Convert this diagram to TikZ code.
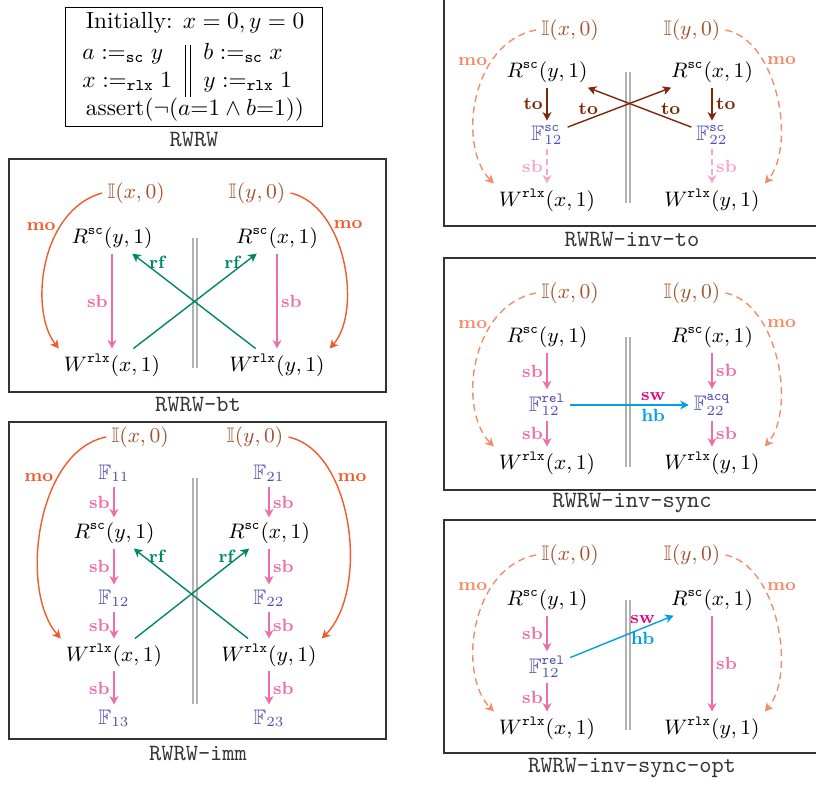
\documentclass[tikz,border=0pt]{standalone}
\usepackage{amsmath,amssymb}
\usetikzlibrary{arrows.meta}
\definecolor{inic}{RGB}{160,82,45}
\definecolor{fenc}{RGB}{80,80,180}
\definecolor{moc}{RGB}{240,90,45}
\definecolor{modc}{RGB}{245,140,105}
\definecolor{sbc}{RGB}{238,110,170}
\definecolor{sbdc}{RGB}{245,170,205}
\definecolor{rfc}{RGB}{0,135,105}
\definecolor{toc}{RGB}{125,40,10}
\definecolor{swc}{RGB}{230,0,126}
\definecolor{hbc}{RGB}{0,160,225}
\tikzset{
  ev/.style={inner sep=2pt, font=\small},
  ini/.style={ev, text=inic},
  fen/.style={ev, text=fenc},
  prog/.style={inner sep=0pt, font=\normalsize},
  lb/.style={font=\fontsize{7.6}{8}\selectfont\bfseries, inner sep=1.5pt},
  arr/.style={-{Stealth[length=3.6pt,width=3.8pt,inset=1pt]}, line width=0.6pt},
  sbA/.style={arr, color=sbc},
  sbD/.style={arr, color=sbdc, dash pattern=on 2.5pt off 1.8pt},
  rfA/.style={arr, color=rfc},
  moA/.style={arr, color=moc},
  moD/.style={arr, color=modc, dash pattern=on 3pt off 2pt},
  toA/.style={arr, color=toc},
  hbA/.style={arr, color=hbc},
  bar/.style={draw=gray!60, line width=0.5pt},
  panel/.style={draw=black!80, line width=0.5pt},
  captxt/.style={font=\ttfamily, text=black!80, inner sep=1pt}
}
\begin{document}
\begin{tikzpicture}[x=0.4292pt,y=-0.4292pt]
\useasboundingbox (0,0) rectangle (816,787);

% ---------- RWRW program ----------
\draw (65,7) rectangle (322,126);
\node[prog, anchor=base] (l1) at (195,28) {Initially: $x = 0, y = 0$};
\node[prog, anchor=base west] (l2a) at (82,59) {$a \mathrel{:=_{\mathtt{sc}}} y$};
\node[prog, anchor=base west] (l2b) at (203,59) {$b \mathrel{:=_{\mathtt{sc}}} x$};
\node[prog, anchor=base west] (l3a) at (82,87) {$x \mathrel{:=_{\mathtt{rlx}}} 1$};
\node[prog, anchor=base west] (l3b) at (203,87) {$y \mathrel{:=_{\mathtt{rlx}}} 1$};
\node[prog, anchor=base] (l4) at (195,115) {assert($\neg(a{=}1 \land b{=}1)$)};
\draw (185,45) -- (185,97) (190,45) -- (190,97);
\node[captxt] (c0) at (194,140) {RWRW};

% ---------- RWRW-bt ----------
\draw[panel] (9,159) rectangle (386,392);
\node[captxt] (c1) at (198,405) {RWRW-bt};
\node[ini] (Ix1) at (136,193) {$\mathbb{I}(x,0)$};
\node[ini] (Iy1) at (257,193) {$\mathbb{I}(y,0)$};
\node[ev] (Ry1) at (112,238) {$R^{\mathtt{sc}}(y,1)$};
\node[ev] (Rx1) at (277,238) {$R^{\mathtt{sc}}(x,1)$};
\node[ev] (Wx1) at (112,365) {$W^{\mathtt{rlx}}(x,1)$};
\node[ev] (Wy1) at (277,365) {$W^{\mathtt{rlx}}(y,1)$};
\draw[bar] (193,238) -- (193,368) (197,238) -- (197,368);
\draw[sbA] (Ry1) -- (Wx1) node[lb,midway,left]{sb};
\draw[sbA] (Rx1) -- (Wy1) node[lb,midway,right]{sb};
\draw[rfA] (Wy1) -- (Ry1) node[lb,pos=.8,above]{rf};
\draw[rfA] (Wx1) -- (Rx1) node[lb,pos=.8,above]{rf};
\draw[moA] (Ix1.west) .. controls +(-62,17) and +(-30,-38) .. (Wx1.north west) node[lb,pos=.3,left]{mo};
\draw[moA] (Iy1.east) .. controls +(55,12) and +(33,-38) .. (Wy1.north east) node[lb,pos=.3,right]{mo};

% ---------- RWRW-imm ----------
\draw[panel] (9,422) rectangle (386,739);
\node[captxt] (c2) at (198,754) {RWRW-imm};
\node[ini] (Ix2) at (140,437) {$\mathbb{I}(x,0)$};
\node[ini] (Iy2) at (255,437) {$\mathbb{I}(y,0)$};
\node[fen] (F11) at (114,473) {$\mathbb{F}_{11}$};
\node[fen] (F21) at (269,473) {$\mathbb{F}_{21}$};
\node[ev] (Ry2) at (114,533) {$R^{\mathtt{sc}}(y,1)$};
\node[ev] (Rx2) at (269,533) {$R^{\mathtt{sc}}(x,1)$};
\node[fen] (F12) at (114,598) {$\mathbb{F}_{12}$};
\node[fen] (F22) at (269,598) {$\mathbb{F}_{22}$};
\node[ev] (Wx2) at (114,655) {$W^{\mathtt{rlx}}(x,1)$};
\node[ev] (Wy2) at (269,655) {$W^{\mathtt{rlx}}(y,1)$};
\node[fen] (F13) at (114,718) {$\mathbb{F}_{13}$};
\node[fen] (F23) at (269,718) {$\mathbb{F}_{23}$};
\draw[bar] (193,478) -- (193,704) (197,478) -- (197,704);
\draw[sbA] (F11) -- (Ry2) node[lb,midway,left]{sb};
\draw[sbA] (Ry2) -- (F12) node[lb,midway,left]{sb};
\draw[sbA] (F12) -- (Wx2) node[lb,midway,left]{sb};
\draw[sbA] (Wx2) -- (F13) node[lb,midway,left]{sb};
\draw[sbA] (F21) -- (Rx2) node[lb,midway,right]{sb};
\draw[sbA] (Rx2) -- (F22) node[lb,midway,right]{sb};
\draw[sbA] (F22) -- (Wy2) node[lb,midway,right]{sb};
\draw[sbA] (Wy2) -- (F23) node[lb,midway,right]{sb};
\draw[rfA] (Wy2) -- (Ry2) node[lb,pos=.8,above]{rf};
\draw[rfA] (Wx2) -- (Rx2) node[lb,pos=.8,above]{rf};
\draw[moA] (Ix2.west) .. controls +(-70,14) and +(-42,-48) .. (Wx2.north west) node[lb,pos=.3,left]{mo};
\draw[moA] (Iy2.east) .. controls +(65,14) and +(48,-48) .. (Wy2.north east) node[lb,pos=.3,right]{mo};

% ---------- RWRW-inv-to ----------
\draw[panel] (444,-5) rectangle (830,226);
\node[captxt] (c3) at (632,240) {RWRW-inv-to};
\node[ini] (Ix3) at (570,30) {$\mathbb{I}(x,0)$};
\node[ini] (Iy3) at (692,30) {$\mathbb{I}(y,0)$};
\node[ev] (Ry3) at (547,72) {$R^{\mathtt{sc}}(y,1)$};
\node[ev] (Rx3) at (712,72) {$R^{\mathtt{sc}}(x,1)$};
\node[fen] (G12) at (547,135) {$\mathbb{F}^{\mathtt{sc}}_{12}$};
\node[fen] (G22) at (712,135) {$\mathbb{F}^{\mathtt{sc}}_{22}$};
\node[ev] (Wx3) at (547,200) {$W^{\mathtt{rlx}}(x,1)$};
\node[ev] (Wy3) at (712,200) {$W^{\mathtt{rlx}}(y,1)$};
\draw[bar] (626,72) -- (626,203) (630,72) -- (630,203);
\draw[toA] (Ry3) -- (G12) node[lb,midway,left]{to};
\draw[toA] (Rx3) -- (G22) node[lb,midway,right]{to};
\draw[toA] (G12) -- (Rx3) node[lb,pos=.2,above]{to};
\draw[toA] (G22) -- (Ry3) node[lb,pos=.2,above]{to};
\draw[sbD] (G12) -- (Wx3) node[lb,midway,left]{sb};
\draw[sbD] (G22) -- (Wy3) node[lb,midway,right]{sb};
\draw[moD] (Ix3.west) .. controls +(-65,12) and +(-37,-38) .. (Wx3.north west) node[lb,pos=.3,left]{mo};
\draw[moD] (Iy3.east) .. controls +(52,10) and +(32,-38) .. (Wy3.north east) node[lb,pos=.3,right]{mo};

% ---------- RWRW-inv-sync ----------
\draw[panel] (444,258) rectangle (830,490);
\node[captxt] (c4) at (632,503) {RWRW-inv-sync};
\node[ini] (Ix4) at (570,293) {$\mathbb{I}(x,0)$};
\node[ini] (Iy4) at (692,293) {$\mathbb{I}(y,0)$};
\node[ev] (Ry4) at (547,337) {$R^{\mathtt{sc}}(y,1)$};
\node[ev] (Rx4) at (712,337) {$R^{\mathtt{sc}}(x,1)$};
\node[fen] (H12) at (547,405) {$\mathbb{F}^{\mathtt{rel}}_{12}$};
\node[fen] (H22) at (712,405) {$\mathbb{F}^{\mathtt{acq}}_{22}$};
\node[ev] (Wx4) at (547,463) {$W^{\mathtt{rlx}}(x,1)$};
\node[ev] (Wy4) at (712,463) {$W^{\mathtt{rlx}}(y,1)$};
\draw[bar] (626,337) -- (626,467) (630,337) -- (630,467);
\draw[sbA] (Ry4) -- (H12) node[lb,midway,left]{sb};
\draw[sbA] (H12) -- (Wx4) node[lb,midway,left]{sb};
\draw[sbA] (Rx4) -- (H22) node[lb,midway,right]{sb};
\draw[sbA] (H22) -- (Wy4) node[lb,midway,right]{sb};
\draw[hbA] (H12) -- (H22) node[lb,pos=.7,above,text=swc]{sw} node[lb,pos=.7,below]{hb};
\draw[moD] (Ix4.west) .. controls +(-65,12) and +(-37,-38) .. (Wx4.north west) node[lb,pos=.3,left]{mo};
\draw[moD] (Iy4.east) .. controls +(52,10) and +(32,-38) .. (Wy4.north east) node[lb,pos=.3,right]{mo};

% ---------- RWRW-inv-sync-opt ----------
\draw[panel] (444,520) rectangle (830,753);
\node[captxt] (c5) at (632,768) {RWRW-inv-sync-opt};
\node[ini] (Ix5) at (570,555) {$\mathbb{I}(x,0)$};
\node[ini] (Iy5) at (692,555) {$\mathbb{I}(y,0)$};
\node[ev] (Ry5) at (547,600) {$R^{\mathtt{sc}}(y,1)$};
\node[ev] (Rx5) at (712,600) {$R^{\mathtt{sc}}(x,1)$};
\node[fen] (K12) at (547,667) {$\mathbb{F}^{\mathtt{rel}}_{12}$};
\node[ev] (Wx5) at (547,728) {$W^{\mathtt{rlx}}(x,1)$};
\node[ev] (Wy5) at (712,728) {$W^{\mathtt{rlx}}(y,1)$};
\draw[bar] (626,600) -- (626,730) (630,600) -- (630,730);
\draw[sbA] (Ry5) -- (K12) node[lb,midway,left]{sb};
\draw[sbA] (K12) -- (Wx5) node[lb,midway,left]{sb};
\draw[sbA] (Rx5) -- (Wy5) node[lb,midway,right]{sb};
\draw[hbA] (K12) -- (Rx5) node[lb,pos=.7,above,text=swc]{sw} node[lb,pos=.7,below]{hb};
\draw[moD] (Ix5.west) .. controls +(-65,12) and +(-37,-38) .. (Wx5.north west) node[lb,pos=.3,left]{mo};
\draw[moD] (Iy5.east) .. controls +(52,10) and +(32,-38) .. (Wy5.north east) node[lb,pos=.3,right]{mo};
\end{tikzpicture}
\end{document}
